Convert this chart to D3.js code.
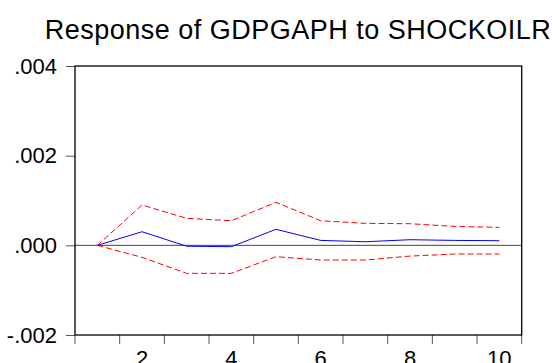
<!DOCTYPE html>
<html>
<head>
<meta charset="utf-8">
<script src="https://cdn.jsdelivr.net/npm/d3@7"></script>
<style>
  html, body { margin: 0; padding: 0; background: #fff; }
  svg { display: block; font-family: "Liberation Sans", Arial, sans-serif; }
</style>
</head>
<body>
<svg id="chart" width="552" height="363"></svg>
<script>
// Impulse response horizons
const periods = [1, 2, 3, 4, 5, 6, 7, 8, 9, 10];
// Point response of GDPGAPH to a SHOCKOILR shock
const response = [0, 0.000303, -0.00002, -0.00003, 0.000357, 0.00011, 0.00008, 0.000125, 0.00011, 0.000103];
// Upper and lower +/- 2 S.E. bands
const upperBand = [0, 0.000899, 0.000602, 0.000549, 0.000959, 0.000549, 0.00049, 0.000482, 0.000423, 0.0004];
const lowerBand = [0, -0.000268, -0.000625, -0.000625, -0.000253, -0.000327, -0.000327, -0.00024, -0.000194, -0.000194];
// Axis labels
const yTicks = [-0.002, 0.000, 0.002, 0.004];
const xLabels = [2, 4, 6, 8, 10];
const title = "Response of GDPGAPH to SHOCKOILR";

const svg = d3.select("#chart");
const m = { left: 75, right: 521.7, top: 66, bottom: 335 };

const x = d3.scaleBand().domain(periods).range([m.left, m.right]).padding(0);
const y = d3.scaleLinear().domain([-0.002, 0.004]).range([m.bottom, m.top]);
const cx = d => x(d) + x.bandwidth() / 2;

// Title
svg.append("text")
  .attr("x", 298)
  .attr("y", 38.5)
  .attr("text-anchor", "middle")
  .attr("font-size", 27)
  .attr("letter-spacing", 0.5)
  .attr("fill", "#000")
  .text(title);

// Y axis ticks and labels
const fmt = v => {
  const s = d3.format(".3f")(Math.abs(v)).replace(/^0/, "");
  return (v < 0 ? "-" : "") + s;
};
const yAxis = d3.axisLeft(y).tickValues(yTicks).tickSize(9).tickPadding(9).tickFormat(fmt);
const gy = svg.append("g").attr("transform", `translate(${m.left},0)`).call(yAxis);
gy.select(".domain").remove();
gy.selectAll(".tick line").attr("stroke", "#555");
gy.selectAll(".tick text").attr("font-size", 22).attr("fill", "#000").attr("font-family", "Liberation Sans, Arial, sans-serif");

// X axis: ticks at band edges, labels at band centres
const edges = periods.map(p => x(p)).concat([m.right]);
svg.append("g").selectAll("line").data(edges).join("line")
  .attr("x1", d => d).attr("x2", d => d)
  .attr("y1", m.bottom).attr("y2", m.bottom + 9)
  .attr("stroke", "#555");
svg.append("g").selectAll("text").data(xLabels).join("text")
  .attr("x", d => cx(d))
  .attr("y", 366)
  .attr("text-anchor", "middle")
  .attr("font-size", 22)
  .attr("fill", "#000")
  .text(d => d);

// Zero line
svg.append("line")
  .attr("x1", m.left).attr("x2", m.right)
  .attr("y1", y(0)).attr("y2", y(0))
  .attr("stroke", "#444").attr("stroke-width", 1);

const line = d3.line().x((d, i) => cx(periods[i])).y(d => y(d));

svg.append("path").datum(upperBand).attr("d", line)
  .attr("fill", "none").attr("stroke", "#ff0000").attr("stroke-width", 1)
  .attr("stroke-dasharray", "6,3");
svg.append("path").datum(lowerBand).attr("d", line)
  .attr("fill", "none").attr("stroke", "#ff0000").attr("stroke-width", 1)
  .attr("stroke-dasharray", "6,3");
svg.append("path").datum(response).attr("d", line)
  .attr("fill", "none").attr("stroke", "#0000ff").attr("stroke-width", 1);

// Plot frame
svg.append("rect")
  .attr("x", m.left).attr("y", m.top)
  .attr("width", m.right - m.left).attr("height", m.bottom - m.top)
  .attr("fill", "none").attr("stroke", "#000").attr("stroke-width", 1.3);
</script>
</body>
</html>
